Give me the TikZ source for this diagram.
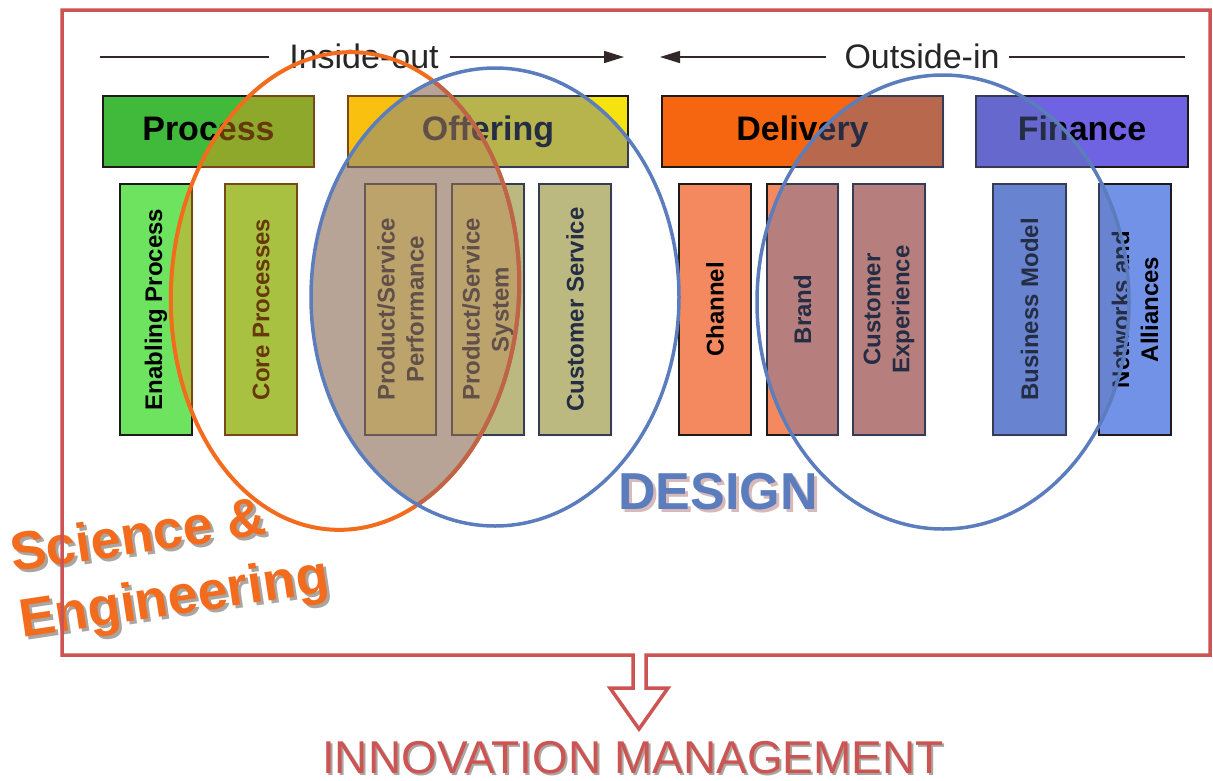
\documentclass[tikz,border=0pt]{standalone}
\usepackage{fontspec}
\setmainfont{Liberation Sans}
\usetikzlibrary{arrows.meta}
\definecolor{framered}{RGB}{204,84,82}
\definecolor{orgline}{RGB}{243,107,28}
\definecolor{orgmix}{RGB}{192,100,72}
\definecolor{orgtint}{RGB}{255,143,20}
\definecolor{blueline}{RGB}{91,125,189}
\definecolor{bluetint}{RGB}{91,113,172}
\definecolor{isect}{RGB}{184,164,150}
\definecolor{procg}{RGB}{65,185,58}
\definecolor{lightg}{RGB}{110,227,95}
\definecolor{offy}{RGB}{246,226,14}
\definecolor{offbox}{RGB}{252,234,98}
\definecolor{delo}{RGB}{246,101,15}
\definecolor{salmon}{RGB}{244,137,95}
\definecolor{finp}{RGB}{111,99,227}
\definecolor{lblue}{RGB}{114,146,232}
\definecolor{edgec}{RGB}{30,26,26}
\definecolor{arrowgray}{RGB}{50,40,40}
\definecolor{shadowgray}{RGB}{170,165,160}
\definecolor{designshadow}{RGB}{215,185,185}
\begin{document}
\begin{tikzpicture}[x=1pt,y=-1pt,
  hdrbox/.style={draw=edgec, line width=2pt, minimum height=71pt, inner sep=0pt,
    text height=24pt, text depth=6pt, font=\fontsize{34}{40}\selectfont\bfseries},
  tallbox/.style={draw=edgec, line width=2pt, rotate=90, minimum width=251pt,
    minimum height=72pt, inner sep=0pt, align=center,
    font=\fontsize{24}{29}\selectfont\bfseries},
  topline/.style={draw=arrowgray, line width=1.6pt},
  toplabel/.style={font=\fontsize{34}{40}\selectfont, text=black!85, anchor=base},
  scitext/.style={font=\fontsize{54}{60}\selectfont\bfseries, anchor=base west, rotate=8.5, inner sep=0pt},
  innovtext/.style={anchor=base, inner sep=0pt, font=\fontsize{46}{54}\selectfont},
  designtext/.style={inner sep=0pt, font=\fontsize{52}{60}\selectfont\bfseries},
]
\useasboundingbox (0,0) rectangle (1213,780);
\fill[white] (0,0) rectangle (1213,780);

% intersection background
\begin{scope}
  \clip[rotate around={-3:(345,291)}] (345,291) ellipse [x radius=174, y radius=239];
  \fill[isect] (495,297) ellipse [x radius=184, y radius=229];
\end{scope}

% top direction labels
\node[toplabel] (io) at (364,68) {Inside-out};
\coordinate (ioA) at (100,57);
\coordinate (ioB) at (269,57);
\coordinate (ioC) at (450,57);
\coordinate (ioD) at (624,57);
\draw[topline] (ioA) -- (ioB);
\draw[topline, -{Triangle[length=20pt,width=12pt]}] (ioC) -- (ioD);
\node[toplabel] (oi) at (922,68) {Outside-in};
\coordinate (oiA) at (826,57);
\coordinate (oiB) at (660,57);
\coordinate (oiC) at (1009,57);
\coordinate (oiD) at (1185,57);
\draw[topline, -{Triangle[length=20pt,width=12pt]}] (oiA) -- (oiB);
\draw[topline] (oiC) -- (oiD);

% header boxes
\node[hdrbox, fill=procg, minimum width=211pt] (proc) at (208.5,131.5) {Process};
\node[hdrbox, fill=offy, minimum width=280pt] (offr) at (488,131.5) {Offering};
\node[hdrbox, fill=delo, minimum width=281pt] (deli) at (802.5,131.5) {Delivery};
\node[hdrbox, fill=finp, minimum width=212pt] (fina) at (1082,131.5) {Finance};

% tall boxes
\node[tallbox, fill=lightg] (enab) at (156,309.5) {Enabling Process};
\node[tallbox, fill=lightg] (core) at (261,309.5) {Core Processes};
\node[tallbox, fill=offbox, minimum height=71pt] (psp) at (400.5,309.5) {Product/Service\\Performance};
\node[tallbox, fill=offbox] (pss) at (488,309.5) {Product/Service\\System};
\node[tallbox, fill=offbox] (cser) at (575,309.5) {Customer Service};
\node[tallbox, fill=salmon] (chan) at (715,309.5) {Channel};
\node[tallbox, fill=salmon, minimum height=71pt] (brand) at (802.5,309.5) {Brand};
\node[tallbox, fill=salmon] (cexp) at (889,309.5) {Customer\\Experience};
\node[tallbox, fill=lblue, minimum height=73pt] (bmod) at (1029.5,309.5) {Business Model};
\node[tallbox, fill=lblue] (netw) at (1135,309.5) {Networks and\\Alliances};

% orange tint
\begin{scope}
  \clip[rotate around={-3:(345,291)}] (345,291) ellipse [x radius=174, y radius=239];
  \fill[orgtint, opacity=0.4]
    (proc.north west) rectangle (proc.south east)
    (offr.north west) rectangle (offr.south east)
    (enab.south west) rectangle (enab.north east)
    (core.south west) rectangle (core.north east)
    (psp.south west) rectangle (psp.north east)
    (pss.south west) rectangle (pss.north east);
\end{scope}
\draw[orgline, line width=4pt, rotate around={-3:(345,291)}] (345,291) ellipse [x radius=174, y radius=239];

% blue tint (left)
\begin{scope}
  \clip (495,297) ellipse [x radius=184, y radius=229];
  \fill[bluetint, opacity=0.4]
    (offr.north west) rectangle (offr.south east)
    (psp.south west) rectangle (psp.north east)
    (pss.south west) rectangle (pss.north east)
    (cser.south west) rectangle (cser.north east)
    (chan.south west) rectangle (chan.north east);
  \draw[orgmix, line width=4pt, rotate around={-3:(345,291)}] (345,291) ellipse [x radius=174, y radius=239];
\end{scope}

% blue tint (right)
\begin{scope}
  \clip (943,302) ellipse [x radius=186, y radius=227];
  \fill[bluetint, opacity=0.4]
    (deli.north west) rectangle (deli.south east)
    (fina.north west) rectangle (fina.south east)
    (chan.south west) rectangle (chan.north east)
    (brand.south west) rectangle (brand.north east)
    (cexp.south west) rectangle (cexp.north east)
    (bmod.south west) rectangle (bmod.north east)
    (netw.south west) rectangle (netw.north east);
\end{scope}
\draw[blueline, line width=3.5pt] (495,297) ellipse [x radius=184, y radius=229];
\draw[blueline, line width=3.5pt] (943,302) ellipse [x radius=186, y radius=227];

% DESIGN
\node[designtext, text=designshadow] (designsh) at (721,495) {DESIGN};
\node[designtext, text=blueline] (design) at (718,492) {DESIGN};

% Science & Engineering
\node[scitext, text=shadowgray] (scish) at (16,575) {Science \&};
\node[scitext, text=shadowgray] (engsh) at (25,641) {Engineering};
\node[scitext, text=orgline] (sci) at (13,572) {Science \&};
\node[scitext, text=orgline] (eng) at (22,638) {Engineering};

% frame and arrow
\draw[framered, line width=3.5pt, line join=miter]
  (633,655) -- (62,655) -- (62,10) -- (1210,10) -- (1210,655) -- (646,655)
  -- (646,688) -- (668,688) -- (639,729) -- (610,688) -- (633,688) -- cycle;

% INNOVATION MANAGEMENT
\node[innovtext, text=shadowgray] (innovsh) at (635,775) {INNOVATION MANAGEMENT};
\node[innovtext, text=framered] (innov) at (633,773) {INNOVATION MANAGEMENT};
\end{tikzpicture}
\end{document}
